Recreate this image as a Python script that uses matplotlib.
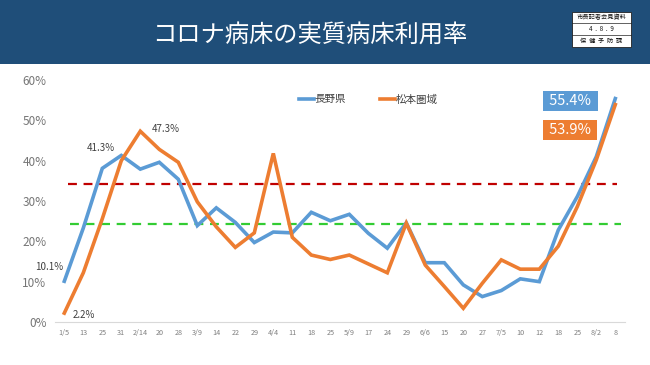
import matplotlib
matplotlib.use("Agg")
import matplotlib.pyplot as plt
from matplotlib.patches import Rectangle

plt.rcParams["font.family"] = ["Noto Sans CJK JP", "DejaVu Sans"]

# データ
dates = ["1/5", "13", "25", "31", "2/14", "20", "28", "3/9", "14", "22",
         "29", "4/4", "11", "18", "25", "5/9", "17", "24", "29", "6/6",
         "15", "20", "27", "7/5", "10", "12", "18", "25", "8/2", "8"]
nagano = [10.1, 23.3, 38.1, 41.3, 37.9, 39.6, 35.4, 23.9, 28.3, 24.7,
          19.7, 22.3, 22.1, 27.2, 25.1, 26.7, 22.0, 18.3, 24.6, 14.7,
          14.7, 9.2, 6.3, 7.8, 10.7, 10.0, 22.8, 31.1, 41.0, 55.4]
matsumoto = [2.2, 12.2, 25.6, 40.0, 47.3, 42.8, 39.6, 29.8, 23.6, 18.5,
             22.1, 41.8, 21.0, 16.6, 15.5, 16.6, 14.4, 12.2, 24.5, 14.1,
             8.8, 3.4, 9.6, 15.4, 13.1, 13.1, 18.8, 28.6, 40.2, 53.9]
thresholds = [34.2, 24.3]
y_ticks = [0, 10, 20, 30, 40, 50, 60]

blue = "#5B9BD5"
orange = "#ED7D31"

fig = plt.figure(figsize=(6.5, 3.65), dpi=100)

# ヘッダー
fig.patches.append(Rectangle((0, 1 - 64 / 365), 1, 64 / 365, transform=fig.transFigure,
                             facecolor="#1F4E79", edgecolor="none", zorder=0))
fig.text(0.477, 1 - 35 / 365, "コロナ病床の実質病床利用率", color="white",
         fontsize=17.5, ha="center", va="center")

# 右上の資料ボックス
bx0, bx1 = 572 / 650, 631 / 650
by_top, by_bot = 1 - 11.7 / 365, 1 - 46.7 / 365
fig.patches.append(Rectangle((bx0, by_bot), bx1 - bx0, by_top - by_bot, transform=fig.transFigure,
                             facecolor="white", edgecolor="#222222", linewidth=0.6, zorder=2))
row_h = (by_top - by_bot) / 3
for k in (1, 2):
    fig.add_artist(plt.Line2D([bx0, bx1], [by_top - k * row_h] * 2, transform=fig.transFigure,
                              color="#222222", linewidth=0.5, zorder=3))
box_rows = ["市長記者会見資料", "4  .  8  .  9", "保  健  予  防  課"]
for k, s in enumerate(box_rows):
    fig.text((bx0 + bx1) / 2, by_top - (k + 0.5) * row_h, s, fontsize=4.5,
             ha="center", va="center", color="#111111", zorder=4)

# グラフ本体
ax = fig.add_axes([54.8 / 650, 43 / 365, 570 / 650, 242 / 365])
x = list(range(len(dates)))

ax.hlines(thresholds[0], 0.2, 29.1, colors="#C00000", linestyles=(0, (4, 3)), linewidth=1.6, zorder=2)
ax.hlines(thresholds[1], 0.3, 29.3, colors="#33CC33", linestyles=(0, (4, 3)), linewidth=1.6, zorder=2)

ax.plot(x, nagano, color=blue, linewidth=2.6, label="長野県", zorder=3, clip_on=False,
        solid_joinstyle="miter")
ax.plot(x, matsumoto, color=orange, linewidth=2.6, label="松本圏域", zorder=4, clip_on=False,
        solid_joinstyle="miter")

ax.set_xlim(-0.5, len(dates) - 0.5)
ax.set_ylim(0, 60)
ax.set_yticks(y_ticks)
ax.set_yticklabels([f"{v}%" for v in y_ticks], fontsize=8.5, color="#767676")
ax.set_xticks(x)
ax.set_xticklabels(dates, fontsize=5.2, color="#7F7F7F")
ax.tick_params(axis="both", length=0)
ax.tick_params(axis="y", pad=6)
ax.tick_params(axis="x", pad=5)
for side in ("top", "right", "left"):
    ax.spines[side].set_visible(False)
ax.spines["bottom"].set_color("#D9D9D9")
ax.spines["bottom"].set_linewidth(0.8)

# データラベル
lab_kw = dict(textcoords="offset points", fontsize=7, color="#404040", ha="center", va="center")
ax.annotate(f"{nagano[0]}%", (0, nagano[0]), xytext=(-11, 10), **lab_kw)
ax.annotate(f"{matsumoto[0]}%", (0, matsumoto[0]), xytext=(14, -1.5), **lab_kw)
ax.annotate(f"{nagano[3]}%", (3, nagano[3]), xytext=(-14.5, 5), **lab_kw)
ax.annotate(f"{matsumoto[4]}%", (4, matsumoto[4]), xytext=(18, 1.5), **lab_kw)

# 最新値のボックス
box_kw = dict(textcoords="offset points", fontsize=10.5, color="white", ha="center", va="center")
ax.annotate(f" {nagano[-1]}% ", (29, nagano[-1]), xytext=(-32.4, -1.7),
            bbox=dict(boxstyle="square,pad=0.22", facecolor=blue, edgecolor="none"), **box_kw)
ax.annotate(f" {matsumoto[-1]}% ", (29, matsumoto[-1]), xytext=(-32.6, -18.3),
            bbox=dict(boxstyle="square,pad=0.22", facecolor=orange, edgecolor="none"), **box_kw)

ax.legend(loc="upper left", bbox_to_anchor=(0.412, 0.98), ncol=2, frameon=False,
          fontsize=7.6, handlelength=1.4, handletextpad=0.05, columnspacing=3.25,
          labelcolor="#404040")

fig.savefig("out.png", dpi=100)
